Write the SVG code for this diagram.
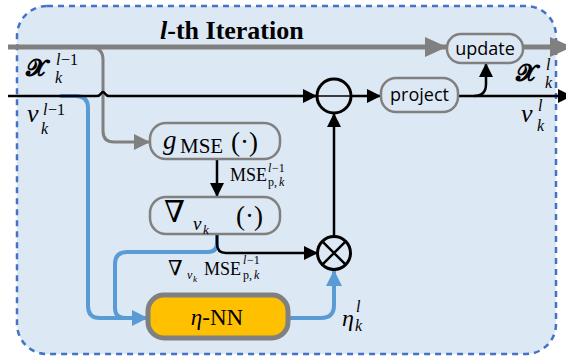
<svg xmlns="http://www.w3.org/2000/svg" width="566" height="358" viewBox="0 0 566 358">
<defs>
<style>
.box{fill:#dde8f5;stroke:#808080;stroke-width:2.5}
.blk{fill:none;stroke:#000;stroke-width:2.5}
.gry{fill:none;stroke:#808080}
.blu{fill:none;stroke:#5b9bd5;stroke-width:4}
.m{font-family:"Liberation Serif","DejaVu Serif",serif;fill:#000}
.s{font-family:"Open Sans","Noto Sans",sans-serif;font-size:18px;fill:#000}
.i{font-style:italic}
</style>
<marker id="ab" markerUnits="userSpaceOnUse" markerWidth="14" markerHeight="14" refX="14" refY="7" orient="auto"><path d="M0,0 L14,7 L0,14 Z" fill="#000"/></marker>
<marker id="ag" markerUnits="userSpaceOnUse" markerWidth="16" markerHeight="16" refX="16" refY="8" orient="auto"><path d="M0,0 L16,8 L0,16 Z" fill="#808080"/></marker>
<marker id="ag2" markerUnits="userSpaceOnUse" markerWidth="22" markerHeight="20" refX="22" refY="10" orient="auto"><path d="M0,0 L22,10 L0,20 Z" fill="#808080"/></marker>
<marker id="au" markerUnits="userSpaceOnUse" markerWidth="16" markerHeight="16" refX="16" refY="8" orient="auto"><path d="M0,0 L16,8 L0,16 Z" fill="#5b9bd5"/></marker>
</defs>
<rect x="17" y="6" width="539" height="348" rx="30" fill="#dde8f5" stroke="#4472c4" stroke-width="2.5" stroke-dasharray="6 5"/>
<text class="m" x="160" y="39" font-size="26" font-weight="bold" font-family="Liberation Serif, serif"><tspan class="i">l</tspan>-th Iteration</text>
<g id="connectors">
<path class="gry" stroke-width="5" d="M8 47 H 447" marker-end="url(#ag2)"/>
<path class="gry" stroke-width="5" d="M523 47 H 572" marker-end="url(#ag2)"/>
<path class="gry" stroke-width="3" d="M90 47 Q 103 47 103 60 V 131 Q 103 142 114 142 H 150" marker-end="url(#ag)"/>
<path class="blu" d="M60 96 H 76 Q 88 96 88 108 V 306 Q 88 318 100 318 H 148" marker-end="url(#au)"/>
<path class="blu" d="M217 235 V 243 Q 217 252 208 252 H 127 Q 115 252 115 264 V 308 Q 115 318 125 318"/>
<path class="blu" d="M288 318 H 321 Q 334 318 334 305 V 270" marker-end="url(#au)"/>
<path class="blk" d="M8 96 H 97 C 101 96 101 92 103 92 C 105 92 105 96 109 96 H 317" marker-end="url(#ab)"/>
<path class="blk" d="M351 96 H 381" marker-end="url(#ab)"/>
<path class="blk" d="M458 96 H 572" marker-end="url(#ab)"/>
<path class="blk" d="M474 96 Q 486 96 486 84 V 63" marker-end="url(#ab)"/>
<path class="blk" d="M217 159 V 197" marker-end="url(#ab)"/>
<path class="blk" d="M217 235 V 244 Q 217 253 226 253 H 318" marker-end="url(#ab)"/>
<path class="blk" d="M334 237 V 113" marker-end="url(#ab)"/>
</g>
<g id="minus">
<circle cx="334" cy="96" r="17" fill="none" stroke="#000" stroke-width="3"/>
<line x1="317" y1="96" x2="351" y2="96" stroke="#000" stroke-width="1.5"/>
</g>
<g id="times">
<circle cx="334" cy="253" r="16.5" fill="none" stroke="#000" stroke-width="3"/>
<path d="M322.3 241.3 L345.7 264.7 M345.7 241.3 L322.3 264.7" stroke="#000" stroke-width="2.5"/>
</g>
<g id="update">
<rect class="box" x="447" y="34" width="76" height="29" rx="14"/>
<text class="s" x="485" y="54.5" text-anchor="middle">update</text>
</g>
<g id="project">
<rect class="box" x="381" y="78" width="77" height="34" rx="15"/>
<text class="s" x="419.5" y="101" text-anchor="middle">project</text>
</g>
<g id="gmse">
<rect class="box" x="150" y="123" width="130" height="36" rx="16"/>
<text class="m"><tspan x="163" y="149" font-size="27" class="i">g</tspan><tspan x="180" y="153" font-size="21">MSE</tspan><tspan x="231" y="151" font-size="27">(·)</tspan></text>
</g>
<g id="grad">
<rect class="box" x="150" y="197" width="130" height="37" rx="16"/>
<text class="m"><tspan x="164" y="222" font-size="30">∇</tspan><tspan x="193" y="230" font-size="19" class="i">v</tspan><tspan x="203" y="234" font-size="13" class="i">k</tspan><tspan x="236" y="225" font-size="27">(·)</tspan></text>
</g>
<g id="etann">
<rect x="148" y="295" width="140" height="43" rx="16" fill="#ffc000" stroke="#808080" stroke-width="5"/>
<text class="m" x="217" y="325" font-size="23" text-anchor="middle"><tspan class="i">η</tspan>-NN</text>
</g>
<g id="labels">
<text class="m"><tspan x="26" y="76" font-size="24" font-weight="bold">𝓧</tspan><tspan x="56" y="65" font-size="16" class="i">l</tspan><tspan x="61" y="65" font-size="16">−1</tspan><tspan x="55" y="83" font-size="16" class="i">k</tspan></text>
<text class="m"><tspan x="27" y="122" font-size="26" class="i">v</tspan><tspan x="43" y="115" font-size="16" class="i">l</tspan><tspan x="48" y="115" font-size="16">−1</tspan><tspan x="41" y="134" font-size="16" class="i">k</tspan></text>
<text class="m"><tspan x="516" y="81" font-size="24" font-weight="bold">𝓧</tspan><tspan x="546" y="70" font-size="16" class="i">l</tspan><tspan x="545" y="88" font-size="16" class="i">k</tspan></text>
<text class="m"><tspan x="521" y="122" font-size="26" class="i">v</tspan><tspan x="538" y="111" font-size="16" class="i">l</tspan><tspan x="537" y="131" font-size="16" class="i">k</tspan></text>
<text class="m"><tspan x="230" y="181" font-size="18">MSE</tspan><tspan x="268" y="172" font-size="12" class="i">l</tspan><tspan x="272" y="172" font-size="12">−1</tspan><tspan x="268" y="186" font-size="12">p,</tspan><tspan x="279" y="186" font-size="12" class="i">k</tspan></text>
<text class="m"><tspan x="168" y="275" font-size="21">∇</tspan><tspan x="187" y="279" font-size="12" class="i">v</tspan><tspan x="193" y="282" font-size="9" class="i">k</tspan><tspan x="204" y="275" font-size="18">MSE</tspan><tspan x="243" y="264" font-size="12" class="i">l</tspan><tspan x="247" y="264" font-size="12">−1</tspan><tspan x="243" y="279" font-size="12">p,</tspan><tspan x="254" y="279" font-size="12" class="i">k</tspan></text>
<text class="m"><tspan x="342" y="326" font-size="24" class="i">η</tspan><tspan x="356" y="312" font-size="16" class="i">l</tspan><tspan x="355" y="331" font-size="16" class="i">k</tspan></text>
</g>
</svg>
